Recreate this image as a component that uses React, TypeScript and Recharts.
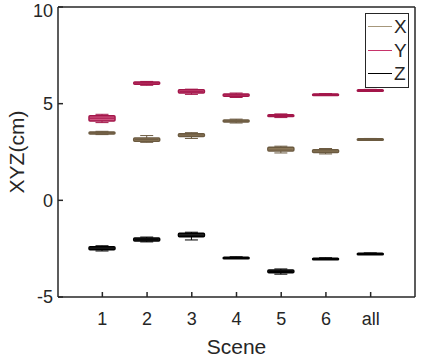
import { Bar, BarChart, Legend, XAxis, YAxis } from 'recharts';

const SCENES = ['1', '2', '3', '4', '5', '6', 'all'];

// box stats per scene: lower whisker, q1, median, q3, upper whisker
const X_LOW = [3.4, 3.0, 3.2, 4.0, 2.45, 2.4, 3.1];
const X_Q1 = [3.43, 3.05, 3.3, 4.05, 2.55, 2.48, 3.13];
const X_MED = [3.49, 3.14, 3.38, 4.1, 2.65, 2.55, 3.15];
const X_Q3 = [3.54, 3.22, 3.45, 4.16, 2.75, 2.62, 3.18];
const X_HIGH = [3.57, 3.35, 3.5, 4.2, 2.8, 2.68, 3.2];

const Y_LOW = [4.02, 5.95, 5.48, 5.32, 4.28, 5.44, 5.66];
const Y_Q1 = [4.1, 6.0, 5.55, 5.38, 4.33, 5.46, 5.68];
const Y_MED = [4.25, 6.07, 5.62, 5.45, 4.38, 5.48, 5.7];
const Y_Q3 = [4.38, 6.12, 5.72, 5.5, 4.43, 5.5, 5.72];
const Y_HIGH = [4.45, 6.15, 5.75, 5.55, 4.47, 5.52, 5.74];

const Z_LOW = [-2.62, -2.15, -2.05, -3.0, -3.82, -3.06, -2.8];
const Z_Q1 = [-2.55, -2.1, -1.88, -2.98, -3.75, -3.04, -2.78];
const Z_MED = [-2.47, -2.02, -1.8, -2.96, -3.68, -3.02, -2.76];
const Z_Q3 = [-2.4, -1.95, -1.7, -2.94, -3.6, -2.99, -2.74];
const Z_HIGH = [-2.35, -1.9, -1.65, -2.92, -3.55, -2.97, -2.72];

const Y_TICKS = [-5, 0, 5, 10];

type Key = 'X' | 'Y' | 'Z';

const SERIES: { key: Key; line: string; fill: string; stroke: string }[] = [
  { key: 'X', line: '#a6977b', fill: '#a08b69', stroke: '#6b5a40' },
  { key: 'Y', line: '#c7336a', fill: '#cf5480', stroke: '#a3164a' },
  { key: 'Z', line: '#000000', fill: '#333333', stroke: '#000000' },
];

const rows = SCENES.map((scene, i) => ({
  scene,
  X: [X_LOW[i], X_Q1[i], X_MED[i], X_Q3[i], X_HIGH[i]],
  Y: [Y_LOW[i], Y_Q1[i], Y_MED[i], Y_Q3[i], Y_HIGH[i]],
  Z: [Z_LOW[i], Z_Q1[i], Z_MED[i], Z_Q3[i], Z_HIGH[i]],
}));

const FONT = '"Liberation Sans", Arial, Helvetica, sans-serif';
const AXIS = '#262626';

// bar spans whisker range; box, median and caps are placed inside it
function boxShape(key: Key, fill: string, stroke: string) {
  return (props: any) => {
    const { x, y, width, height, payload } = props;
    const [lo, q1, med, q3, hi] = payload[key];
    const top = Math.min(y, y + height);
    const h = Math.abs(height);
    const py = (v: number) => top + ((hi - v) / (hi - lo)) * h;
    const cx = x + width / 2;
    const cap = width * 0.25;
    return (
      <g>
        <line x1={cx} x2={cx} y1={py(hi)} y2={py(q3)} stroke={stroke} strokeWidth={1} />
        <line x1={cx} x2={cx} y1={py(q1)} y2={py(lo)} stroke={stroke} strokeWidth={1} />
        <line x1={cx - cap} x2={cx + cap} y1={py(hi)} y2={py(hi)} stroke={stroke} strokeWidth={1} />
        <line x1={cx - cap} x2={cx + cap} y1={py(lo)} y2={py(lo)} stroke={stroke} strokeWidth={1} />
        <rect
          x={x}
          y={py(q3)}
          width={width}
          height={Math.max(py(q1) - py(q3), 1.5)}
          rx={1}
          fill={fill}
          stroke={stroke}
          strokeWidth={1.5}
        />
        <line x1={x + 1} x2={x + width - 1} y1={py(med)} y2={py(med)} stroke={stroke} strokeWidth={1} />
      </g>
    );
  };
}

function LegendBox() {
  return (
    <div
      style={{
        border: `1.5px solid ${AXIS}`,
        background: '#fff',
        padding: '1px 1px 1px 2px',
        fontFamily: FONT,
        fontSize: 19,
        lineHeight: 1,
        color: AXIS,
      }}
    >
      {SERIES.map((s) => (
        <div key={s.key} style={{ display: 'flex', alignItems: 'center', height: 23.5 }}>
          <span style={{ display: 'inline-block', width: 24, height: 0, borderTop: `1.5px solid ${s.line}`, marginRight: 2 }} />
          <span>{s.key}</span>
        </div>
      ))}
    </div>
  );
}

export default function App() {
  return (
    <div style={{ position: 'absolute', left: 0, top: 0, width: 423, height: 359, background: '#fff' }}>
      <BarChart
        width={423}
        height={359}
        data={rows}
        margin={{ top: 0, right: 0, bottom: 0, left: 0 }}
        barSize={26}
        barGap={-26}
      >
        <XAxis
          dataKey="scene"
          xAxisId="bottom"
          height={62}
          padding={{ left: 22, right: 22 }}
          tickSize={-5}
          tickMargin={20}
          stroke={AXIS}
          strokeWidth={1.5}
          tick={{ fill: AXIS, fontSize: 18, fontFamily: FONT }}
          label={{ value: 'Scene', position: 'insideBottom', offset: 5, fill: AXIS, fontSize: 21, fontFamily: FONT }}
        />
        <XAxis
          dataKey="scene"
          xAxisId="top"
          orientation="top"
          height={7}
          padding={{ left: 22, right: 22 }}
          tickSize={-5}
          tick={false}
          stroke={AXIS}
          strokeWidth={1.5}
        />
        <YAxis
          yAxisId="left"
          type="number"
          domain={[-5, 10]}
          ticks={Y_TICKS}
          width={58}
          tickSize={-5}
          tickMargin={10}
          stroke={AXIS}
          strokeWidth={1.5}
          tick={{ fill: AXIS, fontSize: 18, fontFamily: FONT }}
          label={{
            value: 'XYZ(cm)',
            content: ({ viewBox }: any) => {
              const lx = viewBox.x + 16;
              const ly = viewBox.y + viewBox.height / 2;
              return (
                <text
                  x={lx}
                  y={ly}
                  transform={`rotate(-90, ${lx}, ${ly})`}
                  textAnchor="middle"
                  dominantBaseline="central"
                  fill={AXIS}
                  fontSize={21}
                  fontFamily={FONT}
                >
                  XYZ(cm)
                </text>
              );
            },
          }}
        />
        <YAxis
          yAxisId="right"
          orientation="right"
          type="number"
          domain={[-5, 10]}
          ticks={Y_TICKS}
          width={8}
          tickSize={-5}
          tick={false}
          stroke={AXIS}
          strokeWidth={1.5}
        />
        <Legend
          layout="vertical"
          align="center"
          verticalAlign="middle"
          content={() => <LegendBox />}
          wrapperStyle={{ top: 13, left: 365, width: 'auto', height: 'auto' }}
        />
        {SERIES.map((s) => (
          <Bar
            key={s.key}
            name={s.key}
            xAxisId="bottom"
            yAxisId="left"
            dataKey={(d: any) => [d[s.key][0], d[s.key][4]]}
            fill={s.fill}
            shape={boxShape(s.key, s.fill, s.stroke)}
            isAnimationActive={false}
          />
        ))}
      </BarChart>
    </div>
  );
}
